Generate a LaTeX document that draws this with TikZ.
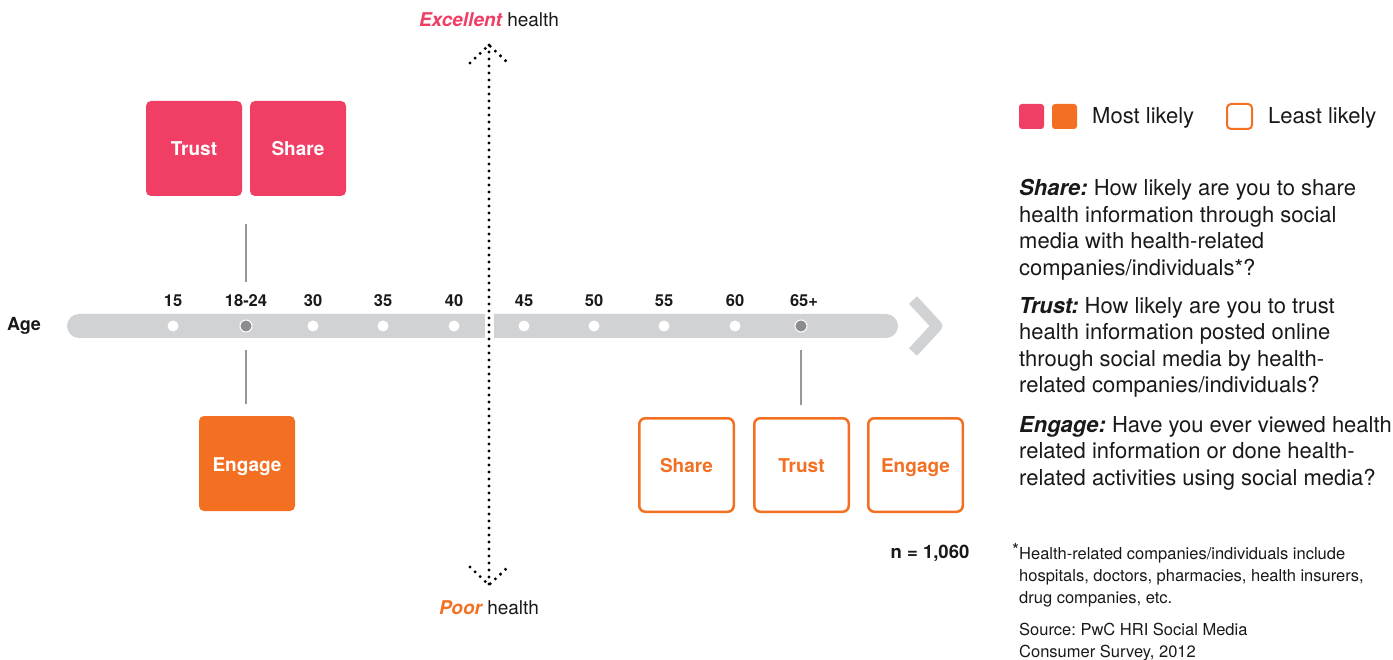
\documentclass[tikz,border=0pt]{standalone}
\usepackage{fontspec}
\setmainfont{TeX Gyre Heros}
\frenchspacing
\definecolor{pwcpink}{RGB}{240,62,100}
\definecolor{pwcorange}{RGB}{243,112,34}
\definecolor{bargray}{RGB}{209,210,212}
\definecolor{dotgray}{RGB}{140,140,142}
\definecolor{txt}{RGB}{25,25,25}
\begin{document}
\frenchspacing
\begin{tikzpicture}[x=1pt,y=-1pt,
  mostbox/.style={rounded corners=5pt, minimum width=96pt, minimum height=95pt, inner sep=0pt, text=white, text height=15pt, text depth=0pt, font=\fontsize{19}{21}\selectfont\bfseries},
  leastbox/.style={draw=pwcorange, fill=white, line width=2.5pt, rounded corners=6pt, minimum width=94.5pt, minimum height=93.5pt, inner sep=0pt, text=pwcorange, text height=15pt, text depth=0pt, font=\fontsize{19}{21}\selectfont\bfseries},
  agelbl/.style={font=\fontsize{16.5}{18}\selectfont\bfseries, text=txt},
  agedot/.style={circle, fill=white, minimum size=11pt, inner sep=0pt},
  keydot/.style={circle, fill=dotgray, draw=white, line width=1pt, minimum size=12pt, inner sep=0pt},
  conn/.style={draw=dotgray!90, line width=1.3pt},
  healthline/.style={line width=3.3pt, dash pattern=on 0pt off 7pt, line cap=round},
  para/.style={anchor=north west, inner sep=0pt, align=left, text=txt, font=\fontsize{22}{26.5}\selectfont\frenchspacing},
  small/.style={anchor=north west, inner sep=0pt, align=left, text=txt, font=\fontsize{16.5}{22}\selectfont\frenchspacing}
]
\useasboundingbox (0,0) rectangle (1393,660);

% health axis
\coordinate (htop) at (489,45);
\coordinate (hbot) at (489,585);
\coordinate (htl) at (470,63);
\coordinate (htr) at (508,63);
\coordinate (hbl) at (470,567);
\coordinate (hbr) at (508,567);
\node[font=\fontsize{19}{21}\selectfont, text=txt] (exc) at (489,20) {{\color{pwcpink}\bfseries\itshape Excellent} health};
\node[font=\fontsize{19}{21}\selectfont, text=txt] (poor) at (489,608) {{\color{pwcorange}\bfseries\itshape Poor} health};

% age bar
\fill[bargray, rounded corners=12pt] (67,314) rectangle (898,338);
\fill[white] (485,308) rectangle (494,344);
\draw[healthline] (htop) -- (hbot);
\draw[healthline] (htl) -- (htop) -- (htr);
\draw[healthline] (hbl) -- (hbot) -- (hbr);
\draw[bargray, line width=11pt, line join=round] (913,300) -- (937,326) -- (913,352);

\node[font=\fontsize{18}{20}\selectfont\bfseries, text=txt] (age) at (24,326) {Age};

\foreach \x/\l/\n in {173/15/d1, 313/30/d3, 383/35/d4, 454/40/d5, 524/45/d6, 594/50/d7, 664/55/d8, 735/60/d9}{
  \node[agedot] (\n) at (\x,326) {};
  \node[agelbl] (\n l) at (\x,301) {\l};
}
\node[keydot] (d2) at (246,326) {};
\node[agelbl] (d2l) at (246,301) {18-24};
\node[keydot] (d10) at (801,326) {};
\node[agelbl] (d10l) at (804,301) {65+};

% boxes
\node[mostbox, fill=pwcpink] (trust1) at (194,148.5) {Trust};
\node[mostbox, fill=pwcpink] (share1) at (298,148.5) {Share};
\node[mostbox, fill=pwcorange] (engage1) at (247,463.5) {Engage};
\node[leastbox] (share2) at (686.5,465) {Share};
\node[leastbox] (trust2) at (801.5,465) {Trust};
\node[leastbox] (engage2) at (915.5,465) {Engage};

\coordinate (c1) at (246,224);
\coordinate (c2) at (246,282);
\coordinate (c3) at (246,350);
\coordinate (c4) at (246,404);
\coordinate (c5) at (801,350);
\coordinate (c6) at (801,405);
\draw[conn] (c1) -- (c2);
\draw[conn] (c3) -- (c4);
\draw[conn] (c5) -- (c6);

\node[font=\fontsize{18.5}{20}\selectfont\bfseries, text=txt] (n) at (930,553) {n = 1,060};

% legend
\node[fill=pwcpink, rounded corners=3pt, minimum size=25pt, inner sep=0pt] (lg1) at (1031.5,116.5) {};
\node[fill=pwcorange, rounded corners=3pt, minimum size=25pt, inner sep=0pt] (lg2) at (1064.5,116.5) {};
\node[anchor=west, inner sep=0pt, text=txt, font=\fontsize{22}{24}\selectfont] (lgt1) at (1092,118) {Most likely};
\node[draw=pwcorange, line width=2pt, rounded corners=4pt, minimum size=25pt, inner sep=0pt] (lg3) at (1239.5,116.5) {};
\node[anchor=west, inner sep=0pt, text=txt, font=\fontsize{22}{24}\selectfont] (lgt2) at (1268,118) {Least likely};

% definitions
\node[para] (p1) at (1019,179) {{\bfseries\itshape Share:} How likely are you to share\\health information through social\\media with health-related\\companies/individuals*?};
\node[para] (p2) at (1019,297) {{\bfseries\itshape Trust:} How likely are you to trust\\health information posted online\\through social media by health-\\related companies/individuals?};
\node[para] (p3) at (1019,416) {{\bfseries\itshape Engage:} Have you ever viewed health\\related information or done health-\\related activities using social media?};

\node[small] (fn) at (1019,543) {\llap{\raisebox{3pt}{\fontsize{18}{18}\selectfont*}}Health-related companies/individuals include\\hospitals, doctors, pharmacies, health insurers,\\drug companies, etc.};
\node[small] (src) at (1019,623) {Source: PwC HRI Social Media\\Consumer Survey, 2012};
\end{tikzpicture}
\end{document}
